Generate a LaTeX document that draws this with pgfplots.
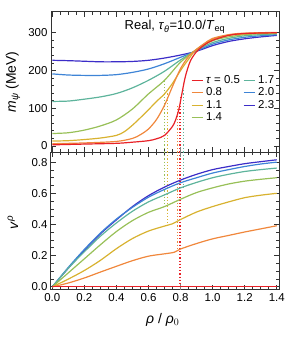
\documentclass[border=0pt]{standalone}
\usepackage{fontspec}
\setmainfont{Liberation Sans}
\usepackage{amsmath}
\usepackage{pgfplots}
\pgfplotsset{compat=1.18}
\definecolor{c05}{RGB}{232,33,39}
\definecolor{c08}{RGB}{240,135,60}
\definecolor{c11}{RGB}{216,178,48}
\definecolor{c14}{RGB}{152,192,88}
\definecolor{c17}{RGB}{94,180,156}
\definecolor{c20}{RGB}{62,132,214}
\definecolor{c23}{RGB}{60,45,200}
\pgfplotsset{
  common/.style={
    scale only axis, width=228bp,
    xmin=-0.008, xmax=1.414,
    xtick={0,0.2,0.4,0.6,0.8,1.0,1.2,1.4},
    minor x tick num=3,
    tick align=inside,
    major tick length=5bp, minor tick length=3bp,
    axis line style={line width=1bp, black!80},
    every tick/.style={black!80, line width=0.8bp},
    tick label style={font=\fontsize{11.5}{13}\selectfont},
    /pgf/number format/assume math mode=true,
    label style={font=\fontsize{14}{16}\selectfont},
    every axis plot/.append style={line width=1.2bp, smooth},
  },
  dl/.style={dotted, line width=0.9bp, forget plot, sharp plot},
}
\begin{document}
\begin{tikzpicture}
\begin{axis}[common,
  name=top, at={(0,0)}, anchor=south west,
  height=140bp, ymin=-16, ymax=355,
  ytick={0,100,200,300}, minor y tick num=4,
  xticklabels={},
  ylabel={\textit{m}$_{\textit{ψ}}$ (MeV)},
  ylabel style={at={(axis description cs:-0.167,0.5)}, anchor=center},
  legend columns=2,
  legend style={at={(0.60,0.57)}, anchor=north west, draw=none, fill=none,
    font=\fontsize{11.5}{13}\selectfont, column sep=2bp, row sep=1bp,
    nodes={inner sep=1bp}},
  legend cell align=left,
  legend image code/.code={\draw[#1, line width=1.2bp] (0bp,0bp) -- (11bp,0bp);},
]
% dotted lines
\addplot[dl, c14] coordinates {(0.700,-16) (0.700,172)};
\addplot[dl, c11] coordinates {(0.716,-16) (0.716,142)};
\addplot[dl, c08] coordinates {(0.782,-16) (0.782,105)};
\addplot[dl, c05] coordinates {(0.790,-16) (0.790,110)};
\addplot[dl, c05] coordinates {(0.800,-16) (0.800,130)};
\addplot[dl, c17] coordinates {(0.820,-16) (0.820,150)};
\addplot[forget plot, sharp plot, gray, line width=1.6bp] coordinates {(0.8,-16) (0.8,-3)};
% curves
\addplot[c23, forget plot] coordinates {(0,227) (0.1,226) (0.2,224.5) (0.3,223) (0.4,223) (0.5,224) (0.6,227) (0.7,233) (0.8,241) (0.9,251) (1.0,266) (1.1,277) (1.2,284) (1.3,289) (1.4,293)};
\addplot[c20, forget plot] coordinates {(0,191) (0.1,188) (0.2,187) (0.3,187) (0.4,189) (0.5,195) (0.6,204) (0.7,218) (0.8,235) (0.9,252) (1.0,270) (1.1,281) (1.2,288) (1.3,292) (1.4,295)};
\addplot[c17, forget plot] coordinates {(0,118) (0.1,119) (0.2,124) (0.3,130) (0.4,139) (0.5,154) (0.6,174) (0.7,198) (0.8,228) (0.9,254) (1.0,274) (1.1,285) (1.2,292) (1.3,295) (1.4,297)};
\addplot[c14, forget plot] coordinates {(0,33) (0.1,35) (0.2,42) (0.3,53) (0.4,69) (0.5,98) (0.6,138) (0.7,174) (0.8,222) (0.9,256) (1.0,279) (1.1,289) (1.2,295) (1.3,297.5) (1.4,299)};
\addplot[c11, forget plot] coordinates {(0,13) (0.1,14) (0.2,17) (0.3,21) (0.4,28) (0.45,38) (0.5,55) (0.55,75) (0.6,96) (0.65,118) (0.7,138) (0.75,166) (0.8,200) (0.85,230) (0.9,256) (1.0,283) (1.1,293) (1.2,297) (1.3,299) (1.4,300)};
\addplot[c08, forget plot] coordinates {(0,6) (0.2,8) (0.4,12) (0.5,20) (0.55,30) (0.6,45) (0.65,70) (0.7,108) (0.75,158) (0.8,205) (0.85,237) (0.9,256) (0.95,272) (1.0,285) (1.1,295) (1.2,299) (1.4,301)};
\addplot[c05, forget plot] coordinates {(0,3) (0.2,5) (0.4,7) (0.5,10) (0.6,14) (0.65,19) (0.7,28) (0.75,52) (0.77,70) (0.79,98) (0.81,142) (0.83,184) (0.86,224) (0.9,250) (0.95,268) (1.0,280) (1.1,293) (1.2,298) (1.4,300)};
% legend
\addlegendimage{c05}\addlegendentry{\textit{τ} = 0.5}
\addlegendimage{c17}\addlegendentry{1.7}
\addlegendimage{c08}\addlegendentry{0.8}
\addlegendimage{c20}\addlegendentry{2.0}
\addlegendimage{c11}\addlegendentry{1.1}
\addlegendimage{c23}\addlegendentry{2.3}
\addlegendimage{c14}\addlegendentry{1.4}
\node[anchor=west, font=\fontsize{13}{15}\selectfont] at (axis cs:0.43,316) {Real, \textit{τ}$_{\textit{θ}}$=10.0/\textit{T}$_{\text{eq}}$};
\end{axis}
\begin{axis}[common,
  at={(0,0)}, anchor=north west,
  height=138bp, ymin=-0.02, ymax=0.865,
  ytick={0,0.2,0.4,0.6,0.8}, minor y tick num=3,
  xticklabel style={/pgf/number format/.cd, fixed, fixed zerofill, precision=1},
  yticklabel style={/pgf/number format/.cd, fixed, fixed zerofill, precision=1},
  ylabel={\textit{v}$^{\textit{ρ}}$},
  ylabel style={at={(axis description cs:-0.167,0.49)}, anchor=center},
  xlabel={\textit{ρ} / \textit{ρ}$_{0}$},
  xlabel style={at={(axis description cs:0.49,-0.217)}, anchor=center},
]
\addplot[dl, c14] coordinates {(0.700,0.865) (0.700,0.50)};
\addplot[dl, c11] coordinates {(0.716,0.865) (0.716,0.395)};
\addplot[dl, c08] coordinates {(0.782,0.865) (0.782,0.232)};
\addplot[dl, c05] coordinates {(0.790,0.865) (0.790,0)};
\addplot[dl, c05] coordinates {(0.800,0.865) (0.800,0)};
\addplot[dl, c17] coordinates {(0.820,0.865) (0.820,0.62)};
\addplot[forget plot, sharp plot, gray, line width=1.6bp] coordinates {(0.8,0.865) (0.8,0.835)};
\addplot[forget plot, sharp plot, gray, line width=1.6bp] coordinates {(0.8,-0.02) (0.8,0.02)};
\addplot[c23] coordinates {(0,0) (0.1,0.12) (0.2,0.235) (0.3,0.34) (0.4,0.43) (0.5,0.515) (0.6,0.585) (0.7,0.64) (0.8,0.685) (0.9,0.722) (1.0,0.752) (1.1,0.772) (1.2,0.79) (1.3,0.803) (1.4,0.815)};
\addplot[c20] coordinates {(0,0) (0.1,0.125) (0.2,0.24) (0.3,0.345) (0.4,0.435) (0.5,0.51) (0.6,0.575) (0.7,0.625) (0.8,0.668) (0.9,0.70) (1.0,0.73) (1.1,0.752) (1.2,0.772) (1.3,0.788) (1.4,0.80)};
\addplot[c17] coordinates {(0,0) (0.1,0.12) (0.2,0.225) (0.3,0.325) (0.4,0.41) (0.5,0.485) (0.6,0.545) (0.7,0.59) (0.8,0.635) (0.9,0.67) (1.0,0.70) (1.1,0.722) (1.2,0.74) (1.3,0.752) (1.4,0.762)};
\addplot[c14] coordinates {(0,0) (0.1,0.09) (0.2,0.18) (0.3,0.27) (0.4,0.355) (0.5,0.425) (0.6,0.478) (0.7,0.515) (0.8,0.562) (0.9,0.605) (1.0,0.635) (1.1,0.66) (1.2,0.678) (1.3,0.69) (1.4,0.70)};
\addplot[c11] coordinates {(0,0) (0.1,0.05) (0.2,0.105) (0.3,0.17) (0.4,0.245) (0.5,0.31) (0.6,0.358) (0.7,0.39) (0.75,0.405) (0.8,0.432) (0.9,0.48) (1.0,0.515) (1.1,0.545) (1.2,0.572) (1.3,0.588) (1.4,0.60)};
\addplot[c08] coordinates {(0,0) (0.1,0.025) (0.2,0.057) (0.3,0.095) (0.4,0.132) (0.5,0.168) (0.6,0.197) (0.7,0.212) (0.76,0.222) (0.8,0.243) (0.9,0.278) (1.0,0.308) (1.1,0.33) (1.2,0.352) (1.3,0.372) (1.4,0.392)};
\addplot[c05, sharp plot] coordinates {(0,0) (1.4,0)};
\end{axis}
\pgfresetboundingbox
\path (-51bp,-185bp) rectangle (240bp,152bp);
\end{tikzpicture}
\end{document}
